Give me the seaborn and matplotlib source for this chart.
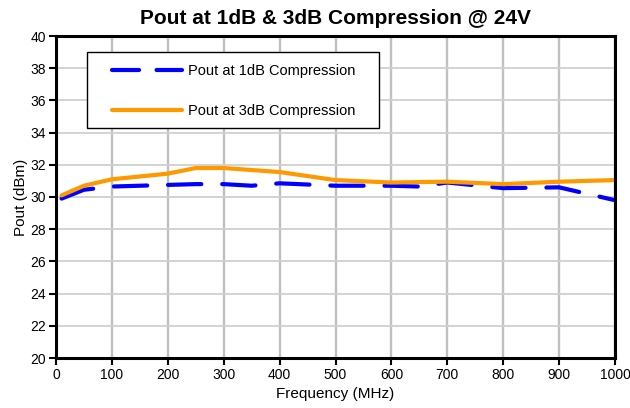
import pandas as pd
import matplotlib
matplotlib.use('Agg')
import matplotlib.pyplot as plt
from matplotlib.patches import Rectangle
import seaborn as sns

# Dados
freq_1db = [10, 50, 100, 200, 250, 300, 350, 400, 500, 600, 650, 700, 800, 900, 1000]
pout_1db = [29.9, 30.45, 30.65, 30.75, 30.8, 30.8, 30.7, 30.85, 30.7, 30.7, 30.65, 30.9, 30.55, 30.6, 29.8]
freq_3db = [10, 50, 100, 200, 250, 300, 400, 500, 600, 700, 800, 900, 1000]
pout_3db = [30.1, 30.7, 31.1, 31.45, 31.8, 31.8, 31.55, 31.05, 30.9, 30.95, 30.8, 30.95, 31.05]

x_ticks = list(range(0, 1001, 100))
y_ticks = list(range(20, 41, 2))

df1 = pd.DataFrame({'freq': freq_1db, 'pout': pout_1db})
df3 = pd.DataFrame({'freq': freq_3db, 'pout': pout_3db})

sns.set_style('whitegrid')
plt.rcParams['font.family'] = ['Liberation Sans', 'DejaVu Sans']
plt.rcParams['text.color'] = 'black'
plt.rcParams['axes.labelcolor'] = 'black'
plt.rcParams['xtick.color'] = 'black'
plt.rcParams['ytick.color'] = 'black'

fig = plt.figure(figsize=(6.3, 4.08), dpi=100)
ax = fig.add_axes([56 / 630, 1 - 358 / 408, 559 / 630, 322 / 408])

sns.lineplot(data=df1, x='freq', y='pout', ax=ax, color='#0000ff', linewidth=3,
             label='Pout at 1dB Compression')
sns.lineplot(data=df3, x='freq', y='pout', ax=ax, color='#ff9900', linewidth=3,
             label='Pout at 3dB Compression')
line1 = ax.lines[0]
line1.set_dashes([8, 5])
line1.set_dash_capstyle('round')

ax.set_xlim(0, 1000)
ax.set_ylim(20, 40)
ax.set_xticks(x_ticks)
ax.set_yticks(y_ticks)
ax.tick_params(axis='both', labelsize=10, length=5, width=1.5, color='black',
               labelcolor='black', direction='out', pad=2, left=True, bottom=True)
ax.grid(False)
ax.xaxis.grid(True, color='#c0c0c0', linewidth=1.7)
ax.yaxis.grid(True, color='#d0d0d0', linewidth=1.3)
for s in ax.spines.values():
    s.set_visible(True)
    s.set_color('black')
    s.set_linewidth(2.2)

ax.set_xlabel('Frequency (MHz)', fontsize=11, labelpad=4, color='black')
ax.set_ylabel('Pout (dBm)', fontsize=11, labelpad=1.5, color='black')
fig.text(335.5 / 630, 1 - 18 / 408, 'Pout at 1dB & 3dB Compression @ 24V', fontsize=15,
         fontweight='bold', ha='center', va='center', color='black')

# caixa da legenda
caixa = Rectangle((0.0555, 0.714), 0.5225, 0.236, transform=ax.transAxes,
                  facecolor='white', edgecolor='black', linewidth=1.0, zorder=4.5)
ax.add_patch(caixa)

leg = ax.legend(loc='upper left', bbox_to_anchor=(0.100, 0.912), fontsize=10.5,
                handlelength=4.8, handletextpad=0.4, labelspacing=1.78, borderpad=0,
                frameon=False, borderaxespad=0)
leg.set_zorder(5)
for t in leg.get_texts():
    t.set_color('black')
leg.get_lines()[0].set_dashes([6.5, 4.2])
leg.get_lines()[0].set_dash_capstyle('round')

fig.savefig('out.png', dpi=100)
